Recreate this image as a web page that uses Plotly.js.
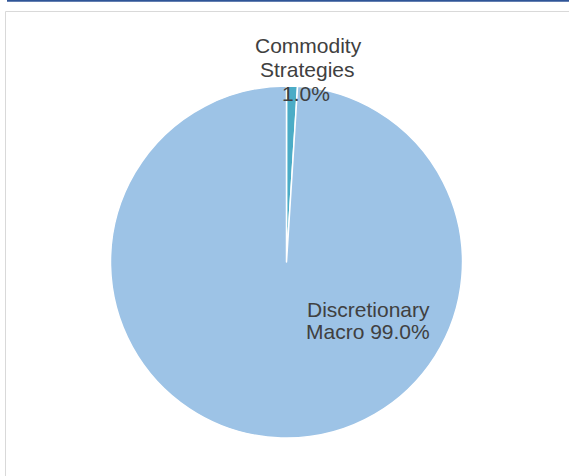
<!DOCTYPE html>
<html>
<head>
<meta charset="utf-8">
<script src="https://cdn.plot.ly/plotly-3.0.1.min.js"></script>
<style>
html,body{margin:0;padding:0;background:#fff;}
#chart{width:569px;height:476px;}
</style>
</head>
<body>
<div id="chart"></div>
<script>
const categories = ["Commodity Strategies", "Discretionary Macro"];
const values = [1.0, 99.0];
const labelLines = [["Commodity", "Strategies"], ["Discretionary", "Macro"]];
const colors = ["#4BACC6", "#9DC3E6"];

const fmt = v => v.toFixed(1) + "%";

const trace = {
  type: "pie",
  labels: categories,
  values: values,
  sort: false,
  direction: "clockwise",
  rotation: 0,
  marker: {colors: colors, line: {color: "#ffffff", width: 1.5}},
  textinfo: "none",
  hoverinfo: "label+percent",
  domain: {x: [110.5/569, 462.5/569], y: [38/476, 390/476]},
  showlegend: false
};

const fnt = {family: "Liberation Sans, Arial, sans-serif", size: 21, color: "#404040"};
const py = y => 1 - y / 476;
const px = x => x / 569;

function ann(text, x, y, xanchor) {
  return {xref: "paper", yref: "paper", x: px(x), y: py(y), xanchor: xanchor, yanchor: "middle",
          showarrow: false, text: text, font: fnt, borderpad: 0};
}

const annotations = [
  ann(labelLines[0][0], 308, 45.4, "center"),
  ann(labelLines[0][1], 307, 69.4, "center"),
  ann(fmt(values[0]), 306, 93.4, "center"),
  ann(labelLines[1][0], 305.5, 309.4, "left"),
  ann(labelLines[1][1] + " " + fmt(values[1]), 304.5, 331.8, "left")
];

const shapes = [
  {type: "line", xref: "paper", yref: "paper", x0: 7/569, x1: 1, y0: py(0.8), y1: py(0.8),
   line: {color: "#2F5597", width: 2}},
  {type: "line", xref: "paper", yref: "paper", x0: 5.5/569, x1: 1, y0: py(11.5), y1: py(11.5),
   line: {color: "#D9D9D9", width: 1}},
  {type: "line", xref: "paper", yref: "paper", x0: 5.5/569, x1: 5.5/569, y0: 0, y1: py(11.5),
   line: {color: "#D9D9D9", width: 1}}
];

const layout = {
  width: 569, height: 476,
  margin: {l: 0, r: 0, t: 0, b: 0},
  paper_bgcolor: "#ffffff",
  plot_bgcolor: "#ffffff",
  annotations: annotations,
  shapes: shapes
};

Plotly.newPlot("chart", [trace], layout, {displayModeBar: false, staticPlot: true});
</script>
</body>
</html>
